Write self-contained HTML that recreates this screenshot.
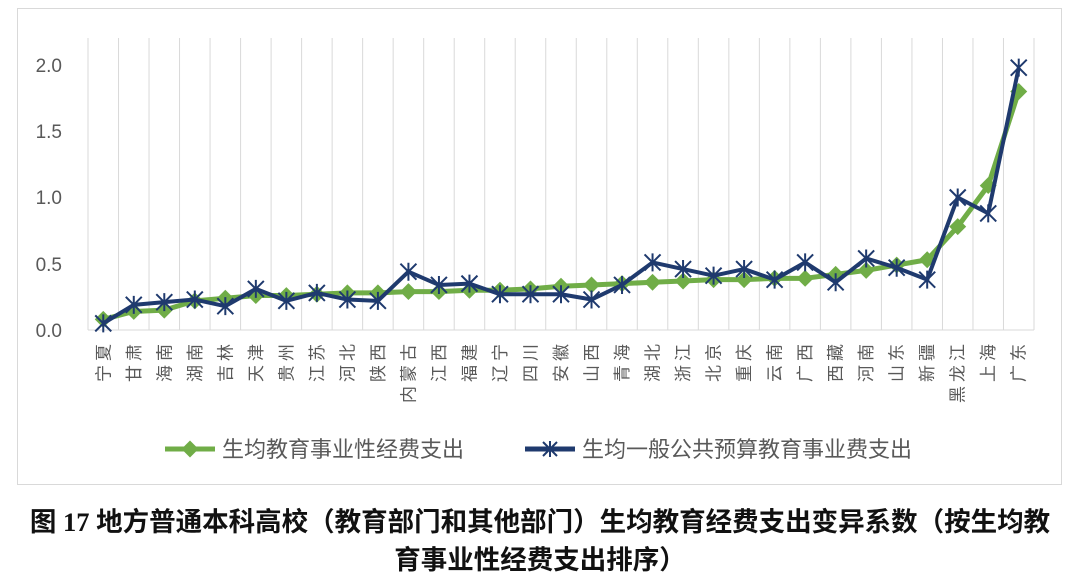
<!DOCTYPE html>
<html><head><meta charset="utf-8"><style>
body{margin:0;background:#fff;width:1080px;height:586px;overflow:hidden;font-family:"Liberation Sans","Noto Sans CJK SC",sans-serif}
.cap{position:absolute;left:0;width:1080px;text-align:center;font-weight:bold;font-size:26.5px;line-height:30px;color:#111;font-family:"Liberation Serif","Noto Sans CJK SC",sans-serif;white-space:nowrap}
</style></head><body>
<svg width="1080" height="586" style="position:absolute;left:0;top:0" font-family="Liberation Sans, Noto Sans CJK SC, sans-serif">
<rect x="17.5" y="8.5" width="1044" height="476" fill="none" stroke="#d9d9d9"/>
<g id="g"></g>
<g font-size="19" fill="#595959" text-anchor="end">
<text x="62" y="72">2.0</text><text x="62" y="138">1.5</text><text x="62" y="204">1.0</text><text x="62" y="271">0.5</text><text x="62" y="337">0.0</text>
</g>
<g id="lab" font-size="17" fill="#595959"></g>
<g id="s"></g>
<line x1="165" y1="449" x2="215" y2="449" stroke="#70ad47" stroke-width="5"/>
<rect x="184" y="443" width="12" height="12" fill="#70ad47" transform="rotate(45 190 449)"/>
<text x="222" y="457" font-size="22" fill="#595959">生均教育事业性经费支出</text>
<line x1="525" y1="449" x2="575" y2="449" stroke="#1f3a6e" stroke-width="5"/>
<path d="M543 442L557 456M557 442L543 456M550 441V457" stroke="#1f3a6e" stroke-width="2"/>
<text x="582" y="457" font-size="22" fill="#595959">生均一般公共预算教育事业费支出</text>
</svg>
<div class="cap" style="top:507px">图 17 地方普通本科高校（教育部门和其他部门）生均教育经费支出变异系数（按生均教</div>
<div class="cap" style="top:545px">育事业性经费支出排序）</div>
<script>
const names="宁夏 甘肃 海南 湖南 吉林 天津 贵州 江苏 河北 陕西 内蒙古 江西 福建 辽宁 四川 安徽 山西 青海 湖北 浙江 北京 重庆 云南 广西 西藏 河南 山东 新疆 黑龙江 上海 广东".split(" ");
const G=[0.08,0.14,0.15,0.22,0.24,0.26,0.26,0.27,0.28,0.28,0.29,0.29,0.30,0.30,0.31,0.33,0.34,0.35,0.36,0.37,0.38,0.38,0.39,0.39,0.42,0.45,0.49,0.53,0.78,1.09,1.80];
const B=[0.05,0.19,0.21,0.23,0.18,0.31,0.22,0.28,0.23,0.22,0.44,0.34,0.35,0.27,0.27,0.27,0.23,0.34,0.51,0.46,0.41,0.46,0.38,0.51,0.36,0.54,0.47,0.38,1.00,0.88,1.98];
const x0=88,x1=1034,w=(x1-x0)/31,y0=330,k=132.5;
let g="";
for(let i=0;i<=31;i++){const x=x0+i*w;g+=`<line x1="${x}" y1="38" x2="${x}" y2="${y0}" stroke="#d9d9d9"/>`}
g+=`<line x1="${x0}" y1="${y0}" x2="${x1}" y2="${y0}" stroke="#d9d9d9"/>`;
document.getElementById("g").innerHTML=g;
let l="";
names.forEach((n,i)=>{const x=x0+(i+.5)*w+6;l+=`<text transform="translate(${x},340) rotate(-90)" text-anchor="end" letter-spacing="4">${n}</text>`});
document.getElementById("lab").innerHTML=l;
const X=i=>x0+(i+.5)*w,Y=v=>y0-v*k;
let s=`<polyline fill="none" stroke="#70ad47" stroke-width="5" stroke-linejoin="round" points="${G.map((v,i)=>X(i)+","+Y(v)).join(" ")}"/>`;
G.forEach((v,i)=>{s+=`<rect x="${X(i)-6}" y="${Y(v)-6}" width="12" height="12" fill="#70ad47" transform="rotate(45 ${X(i)} ${Y(v)})"/>`});
s+=`<polyline fill="none" stroke="#1f3a6e" stroke-width="4" stroke-linejoin="round" points="${B.map((v,i)=>X(i)+","+Y(v)).join(" ")}"/>`;
B.forEach((v,i)=>{const x=X(i),y=Y(v);s+=`<path d="M${x-8} ${y-8}L${x+8} ${y+8}M${x+8} ${y-8}L${x-8} ${y+8}M${x} ${y-9}V${y+9}" stroke="#1f3a6e" stroke-width="2"/>`});
document.getElementById("s").innerHTML=s;
</script>
</body></html>
